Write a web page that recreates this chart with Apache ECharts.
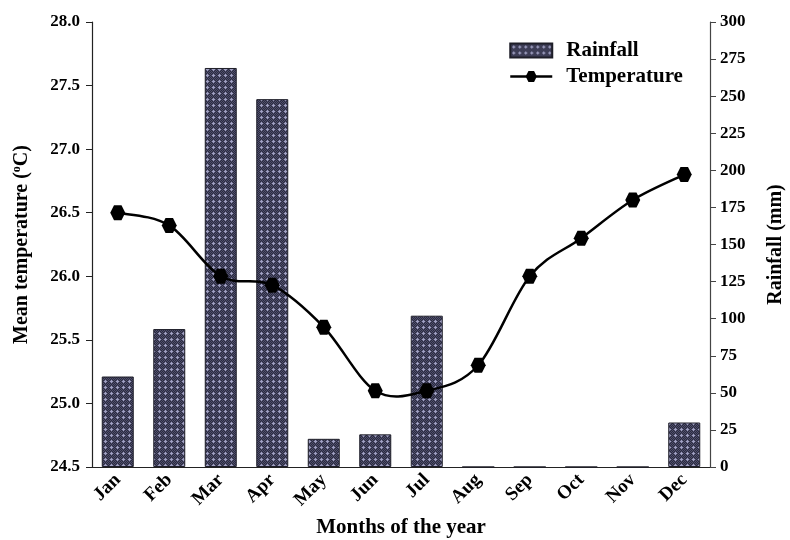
<!DOCTYPE html>
<html>
<head>
<meta charset="utf-8">
<script src="https://cdn.jsdelivr.net/npm/echarts@6/dist/echarts.min.js"></script>
<style>
  html, body { margin: 0; padding: 0; background: #fff; }
  #chart { width: 790px; height: 540px; }
</style>
</head>
<body>
<div id="chart"></div>
<script>
// Monthly climate data
const months = ['Jan', 'Feb', 'Mar', 'Apr', 'May', 'Jun', 'Jul', 'Aug', 'Sep', 'Oct', 'Nov', 'Dec'];
const rainfall = [61, 93, 269, 248, 19, 22, 102, 0, 0, 0, 0, 30];
const temperature = [26.5, 26.4, 26.0, 25.93, 25.6, 25.1, 25.1, 25.3, 26.0, 26.3, 26.6, 26.8];
const tempTicks = { min: 24.5, max: 28, step: 0.5 };
const rainTicks = { min: 0, max: 300, step: 25 };

// Stippled fill for the rainfall bars
function makePattern() {
  const c = document.createElement('canvas');
  c.width = 6; c.height = 6;
  const g = c.getContext('2d');
  g.fillStyle = '#2a2a40';
  g.fillRect(0, 0, 6, 6);
  g.fillStyle = '#50506c';
  for (let y = 0; y < 6; y++) {
    for (let x = 0; x < 6; x++) {
      if ((x + y) % 2 === 0) g.fillRect(x, y, 1, 1);
    }
  }
  g.fillStyle = '#a0a0c2';
  g.fillRect(3, 2, 1, 3);
  g.fillRect(2, 3, 3, 1);
  return c;
}
const barFill = { image: makePattern(), repeat: 'repeat' };

const font = 'Liberation Serif';
const hexagon = 'path://M0,50 L25,6.7 L75,6.7 L100,50 L75,93.3 L25,93.3 Z';

// Catmull-Rom curve through the temperature points, in pixel space
function renderCurve(params, api) {
  if (params.dataIndex !== 0) return null;
  const pts = temperature.map((v, i) => api.coord([i, v]));
  const n = pts.length;
  let d = 'M' + pts[0][0] + ',' + pts[0][1];
  for (let i = 0; i < n - 1; i++) {
    const p0 = pts[Math.max(i - 1, 0)];
    const p1 = pts[i];
    const p2 = pts[i + 1];
    const p3 = pts[Math.min(i + 2, n - 1)];
    const c1x = p1[0] + (p2[0] - p0[0]) / 6;
    const c1y = p1[1] + (p2[1] - p0[1]) / 6;
    const c2x = p2[0] - (p3[0] - p1[0]) / 6;
    const c2y = p2[1] - (p3[1] - p1[1]) / 6;
    d += ' C' + c1x + ',' + c1y + ' ' + c2x + ',' + c2y + ' ' + p2[0] + ',' + p2[1];
  }
  return {
    type: 'path',
    shape: { pathData: d },
    style: { stroke: '#000', lineWidth: 2.5, fill: null }
  };
}

const chart = echarts.init(document.getElementById('chart'), null, { renderer: 'canvas' });
chart.setOption({
  animation: false,
  backgroundColor: '#ffffff',
  grid: { left: 92, right: 80, top: 22, bottom: 73, containLabel: false, outerBoundsMode: 'none' },
  legend: {
    orient: 'vertical',
    left: 504,
    top: 35,
    itemWidth: 42,
    itemHeight: 14,
    itemGap: 5,
    textStyle: { fontFamily: font, fontWeight: 'bold', fontSize: 21, color: '#000', padding: [0, 0, 0, 9] },
    data: [
      { name: 'Rainfall', icon: 'rect' },
      { name: 'Temperature', lineStyle: { color: '#000', width: 2.5, opacity: 1 } }
    ]
  },
  xAxis: {
    type: 'category',
    data: months,
    boundaryGap: true,
    name: 'Months of the year',
    nameLocation: 'middle',
    nameGap: 49,
    nameTextStyle: { fontFamily: font, fontWeight: 'bold', fontSize: 21, color: '#000' },
    axisLine: { lineStyle: { color: '#222', width: 1.2 } },
    axisTick: { alignWithLabel: true, length: 6, lineStyle: { color: '#222' } },
    axisLabel: {
      rotate: 45, margin: 10,
      fontFamily: font, fontWeight: 'bold', fontSize: 19, color: '#000'
    }
  },
  yAxis: [
    {
      type: 'value',
      min: tempTicks.min, max: tempTicks.max, interval: tempTicks.step,
      position: 'left',
      name: 'Mean temperature ({sup|o}C)',
      nameLocation: 'middle',
      nameRotate: 90,
      nameGap: 60,
      nameTextStyle: {
        fontFamily: font, fontWeight: 'bold', fontSize: 20, color: '#000',
        rich: { sup: { fontFamily: font, fontSize: 12, fontWeight: 'bold', color: '#000', padding: [0, 0, 9, 0] } }
      },
      splitLine: { show: false },
      axisLine: { show: true, lineStyle: { color: '#222', width: 1.2 } },
      axisTick: { show: true, length: 6, lineStyle: { color: '#222' } },
      axisLabel: {
        margin: 12,
        fontFamily: font, fontWeight: 'bold', fontSize: 17, color: '#000',
        formatter: v => v.toFixed(1)
      }
    },
    {
      type: 'value',
      min: rainTicks.min, max: rainTicks.max, interval: rainTicks.step,
      position: 'right',
      name: 'Rainfall (mm)',
      nameLocation: 'middle',
      nameRotate: 90,
      nameGap: 56,
      nameTextStyle: { fontFamily: font, fontWeight: 'bold', fontSize: 20, color: '#000' },
      splitLine: { show: false },
      axisLine: { show: true, lineStyle: { color: '#444', width: 1.2 } },
      axisTick: { show: true, length: 6, lineStyle: { color: '#444' } },
      axisLabel: {
        margin: 10,
        fontFamily: font, fontWeight: 'bold', fontSize: 17, color: '#000'
      }
    }
  ],
  series: [
    {
      name: 'Rainfall',
      type: 'bar',
      yAxisIndex: 1,
      data: rainfall,
      barWidth: 32,
      itemStyle: { color: barFill, borderColor: '#1e1e28', borderWidth: 1 }
    },
    {
      name: 'Temperature curve',
      type: 'custom',
      yAxisIndex: 0,
      data: temperature.map((v, i) => [i, v]),
      renderItem: renderCurve,
      z: 3,
      silent: true
    },
    {
      name: 'Temperature',
      type: 'line',
      yAxisIndex: 0,
      data: temperature,
      symbol: hexagon,
      symbolSize: 15,
      z: 4,
      lineStyle: { color: '#000', width: 2.5, opacity: 0 },
      itemStyle: { color: '#000' }
    }
  ]
});
</script>
</body>
</html>
